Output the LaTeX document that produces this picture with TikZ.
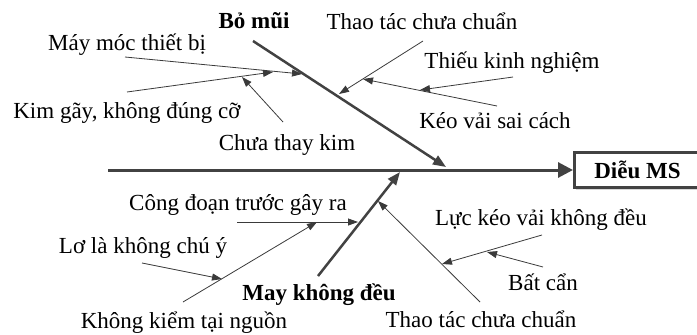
\documentclass[tikz,border=0pt]{standalone}
\usepackage{fontspec}
\setmainfont{Liberation Serif}
\usetikzlibrary{arrows.meta,shadows}
\definecolor{bone}{RGB}{66,66,66}
\definecolor{twig}{RGB}{58,58,58}
\begin{document}
\begin{tikzpicture}[x=1pt,y=-1pt,
  lbl/.style={font=\fontsize{23}{27}\selectfont, inner sep=0pt, anchor=base},
  head/.style={lbl, font=\fontsize{23}{27}\selectfont\bfseries},
  spine/.style={draw=bone, line width=3pt, -{Triangle[length=15pt,width=15pt]}},
  mainbone/.style={draw=bone, line width=2.5pt, -{Triangle[length=13pt,width=10pt]}},
  twigline/.style={draw=twig, line width=0.8pt, -{Triangle[length=10pt,width=7pt]}},
  effectbox/.style={draw=bone, line width=3pt, fill=white, inner sep=0pt,
    minimum width=126pt, minimum height=35pt,
    font=\fontsize{23}{27}\selectfont\bfseries,
    drop shadow={shadow xshift=1.5pt, shadow yshift=-2pt, fill=black!30}}]
\useasboundingbox (0,0) rectangle (697,335);
\clip (0,0) rectangle (697,335);

% effect box and spine
\node[effectbox] (ms) at (637.5,170) {Diễu MS};
\coordinate (tail) at (108,170);
\draw[spine] (tail) -- (ms.west);

% main bones
\coordinate (ub0) at (253,41);
\coordinate (ub1) at (446,167);
\coordinate (lb0) at (318,276);
\coordinate (lb1) at (400,172);
\draw[mainbone] (ub0) -- (ub1);
\draw[mainbone] (lb0) -- (lb1);

% bone headings
\node[head] (bomui) at (254,28) {Bỏ mũi};
\node[head] (maykd) at (319,300) {May không đều};

% upper branch causes
\node[lbl] (maymoc) at (127,50) {Máy móc thiết bị};
\node[lbl] (kimgay) at (127,118) {Kim gãy, không đúng cỡ};
\node[lbl] (chuathay) at (287,150) {Chưa thay kim};
\node[lbl] (thaotac1) at (422,29) {Thao tác chưa chuẩn};
\node[lbl] (thieukn) at (512,68) {Thiếu kinh nghiệm};
\node[lbl] (keovai) at (495,128) {Kéo vải sai cách};

\coordinate (m0) at (125,57);   \coordinate (m1) at (302,74);
\coordinate (k0) at (127,92);   \coordinate (k1) at (273,72);
\coordinate (c0) at (283,122);  \coordinate (c1) at (242,77);
\coordinate (t0) at (423,41);   \coordinate (t1) at (339,94);
\coordinate (kv0) at (497,106); \coordinate (kv1) at (363,79);
\coordinate (th0) at (513,77);  \coordinate (th1) at (420,90);
\draw[twigline] (m0) -- (m1);
\draw[twigline] (k0) -- (k1);
\draw[twigline] (c0) -- (c1);
\draw[twigline] (t0) -- (t1);
\draw[twigline] (kv0) -- (kv1);
\draw[twigline] (th0) -- (th1);

% lower branch causes
\node[lbl] (congdoan) at (238,210) {Công đoạn trước gây ra};
\node[lbl] (lola) at (143,253) {Lơ là không chú ý};
\node[lbl] (khongkiem) at (184,328) {Không kiểm tại nguồn};
\node[lbl] (luckeo) at (541,225) {Lực kéo vải không đều};
\node[lbl] (batcan) at (543,290) {Bất cẩn};
\node[lbl] (thaotac2) at (481,327) {Thao tác chưa chuẩn};

\coordinate (cd0) at (237,222); \coordinate (cd1) at (358,222);
\coordinate (kk0) at (183,302); \coordinate (kk1) at (317,222);
\coordinate (ll0) at (142,263); \coordinate (ll1) at (222,279);
\coordinate (tl0) at (480,302); \coordinate (tl1) at (378,201);
\coordinate (lk0) at (542,235); \coordinate (lk1) at (442,264);
\coordinate (bc0) at (543,267); \coordinate (bc1) at (487,252);
\draw[twigline] (cd0) -- (cd1);
\draw[twigline] (kk0) -- (kk1);
\draw[twigline] (ll0) -- (ll1);
\draw[twigline] (tl0) -- (tl1);
\draw[twigline] (lk0) -- (lk1);
\draw[twigline] (bc0) -- (bc1);
\end{tikzpicture}
\end{document}
